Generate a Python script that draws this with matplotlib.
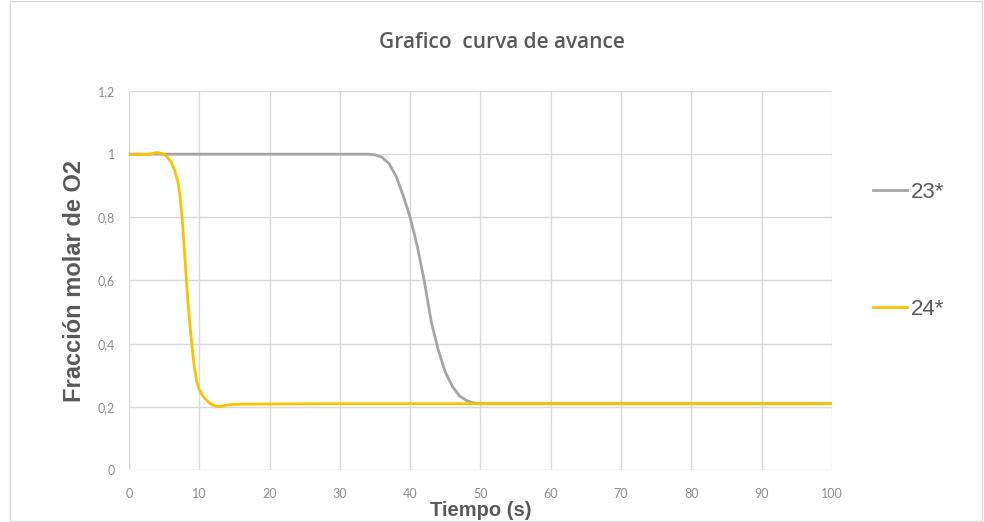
import matplotlib
matplotlib.use("Agg")
import matplotlib.pyplot as plt
from matplotlib.patches import Rectangle
from matplotlib.ticker import FuncFormatter

# data
t_23 = [0, 10, 20, 30, 34, 35, 36, 37, 38, 39, 40, 41, 42, 43, 44, 45, 46, 47, 48, 49, 50, 52, 60, 70, 80, 90, 100]
y_23 = [1.0, 1.0, 1.0, 1.0, 1.0, 0.998, 0.99, 0.97, 0.93, 0.87, 0.80, 0.71, 0.60, 0.47, 0.38, 0.31, 0.265, 0.235, 0.22, 0.212, 0.21, 0.21, 0.21, 0.21, 0.21, 0.21, 0.21]

t_24 = [0, 1, 2, 3, 4, 5, 5.5, 6, 6.5, 7, 7.3, 7.6, 8, 8.4, 8.8, 9.2, 9.6, 10, 10.5, 11, 11.5, 12, 12.5, 13, 13.5, 14, 15, 20, 30, 40, 50, 60, 70, 80, 90, 100]
y_24 = [1.0, 0.998, 0.999, 1.0, 1.005, 1.0, 0.99, 0.975, 0.95, 0.91, 0.86, 0.79, 0.66, 0.53, 0.43, 0.345, 0.285, 0.255, 0.235, 0.222, 0.212, 0.205, 0.202, 0.201, 0.203, 0.206, 0.208, 0.209, 0.21, 0.21, 0.21, 0.21, 0.21, 0.21, 0.21, 0.21]

series_names = ["23*", "24*"]
series_colors = ["#a5a5a5", "#ffc000"]

title = "Grafico  curva de avance"
xlabel = "Tiempo (s)"
ylabel = "Fracción molar de O2"

x_ticks = list(range(0, 101, 10))
y_ticks = [0, 0.2, 0.4, 0.6, 0.8, 1.0, 1.2]

fig = plt.figure(figsize=(9.84, 5.22), dpi=100)
ax = fig.add_axes([0.131, 0.0996, 0.7145, 0.7261])

# outer chart border
fig.patches.append(Rectangle((0.010, 0.002), 0.988, 0.996, transform=fig.transFigure,
                             fill=False, edgecolor="#d9d9d9", linewidth=1))

ax.plot(t_23, y_23, color=series_colors[0], linewidth=2, label=series_names[0], zorder=3)
ax.plot(t_24, y_24, color=series_colors[1], linewidth=2, label=series_names[1], zorder=4)

ax.set_xlim(0, 100)
ax.set_ylim(0, 1.2)
ax.set_xticks(x_ticks)
ax.set_yticks(y_ticks)
ax.yaxis.set_major_formatter(FuncFormatter(lambda v, p: ("%g" % v).replace(".", ",")))
ax.grid(True, color="#d9d9d9", linewidth=1)
ax.set_axisbelow(True)
for s in ax.spines.values():
    s.set_visible(False)
ax.tick_params(length=0, labelsize=9, labelcolor="#8c8c8c")
ax.tick_params(axis="x", pad=13)
ax.tick_params(axis="y", pad=10)
for lab in ax.get_xticklabels() + ax.get_yticklabels():
    lab.set_family("Lato")

ax.set_xlabel(xlabel, fontsize=14.5, fontweight="bold", color="#595959",
              family="Liberation Sans", va="center")
ax.xaxis.set_label_coords(0.501, -0.106)
ax.set_ylabel(ylabel, fontsize=17, fontweight="bold", color="#595959",
              family="Liberation Sans", va="center")
ax.yaxis.set_label_coords(-0.077, 0.499)
fig.text(0.51, 0.919, title, ha="center", va="center", fontsize=15,
         color="#595959", family="Open Sans", fontweight="semibold")

leg = ax.legend(loc="center left", bbox_to_anchor=(1.058, 0.578), frameon=False,
                borderaxespad=0, borderpad=0,
                labelspacing=4.35, handlelength=1.55, handletextpad=0.15,
                prop={"family": "Liberation Sans", "size": 16})
for txt in leg.get_texts():
    txt.set_color("#595959")

fig.savefig("out.png", dpi=100)
